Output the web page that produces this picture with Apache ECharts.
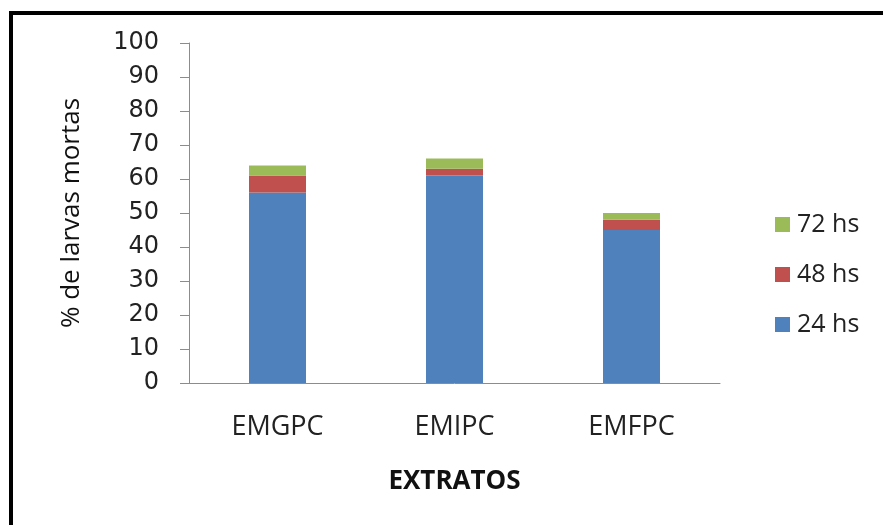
<!DOCTYPE html>
<html>
<head>
<meta charset="utf-8">
<script src="https://cdn.jsdelivr.net/npm/echarts@6/dist/echarts.min.js"></script>
<style>
  html, body { margin: 0; padding: 0; background: #fff; }
  #chart { width: 883px; height: 525px; }
</style>
</head>
<body>
<div id="chart"></div>
<script>
// Extracts tested and cumulative larval mortality (%) by exposure time
const categories = ['EMGPC', 'EMIPC', 'EMFPC'];
const mortality24h = [56, 61, 45];
const mortality48h = [5, 2, 3];
const mortality72h = [3, 3, 2];
const seriesNames = ['24 hs', '48 hs', '72 hs'];
const yTicks = { min: 0, max: 100, interval: 10 };

const colors = ['#4F81BD', '#C0504D', '#9BBB59'];
const textFont = '"Open Sans", "Liberation Sans", sans-serif';

const chart = echarts.init(document.getElementById('chart'), null, { renderer: 'canvas' });

const values = [mortality24h, mortality48h, mortality72h];

chart.setOption({
  animation: false,
  backgroundColor: '#ffffff',
  grid: { left: 189, right: 163, top: 43, bottom: 142, containLabel: false },
  legend: {
    orient: 'vertical',
    left: 770,
    top: 207,
    itemWidth: 15,
    itemHeight: 15,
    itemGap: 25,
    icon: 'rect',
    data: ['72 hs', '48 hs', '24 hs'],
    textStyle: { fontFamily: textFont, fontSize: 25, color: '#222', padding: [0, 0, 0, 2] }
  },
  xAxis: {
    type: 'category',
    data: categories,
    name: 'EXTRATOS',
    nameLocation: 'middle',
    nameGap: 86,
    nameTextStyle: { fontFamily: textFont, fontSize: 26, fontWeight: 'bold', color: '#111' },
    axisLine: { lineStyle: { color: '#8c8c8c', width: 1 } },
    axisTick: { show: false },
    axisLabel: { margin: 31, fontFamily: textFont, fontSize: 27, color: '#222' }
  },
  yAxis: {
    type: 'value',
    min: yTicks.min,
    max: yTicks.max,
    interval: yTicks.interval,
    name: '% de larvas mortas',
    nameLocation: 'middle',
    nameGap: 104,
    nameRotate: 90,
    nameTextStyle: { fontFamily: textFont, fontSize: 26, color: '#111' },
    splitLine: { show: false },
    axisLine: { show: true, lineStyle: { color: '#8c8c8c', width: 1 } },
    axisTick: { show: true, inside: false, length: 9, lineStyle: { color: '#8c8c8c' } },
    axisLabel: { margin: 30, fontFamily: '"DejaVu Sans", sans-serif', fontSize: 24, color: '#222' }
  },
  series: seriesNames.map((name, i) => ({
    name: name,
    type: 'bar',
    stack: 'total',
    barWidth: 57,
    data: values[i],
    itemStyle: { color: colors[i] }
  })),
  graphic: [
    { type: 'rect', shape: { x: 9, y: 11, width: 880, height: 4 }, style: { fill: '#000' }, z: 100 },
    { type: 'rect', shape: { x: 9, y: 11, width: 4, height: 520 }, style: { fill: '#000' }, z: 100 }
  ]
});
</script>
</body>
</html>
